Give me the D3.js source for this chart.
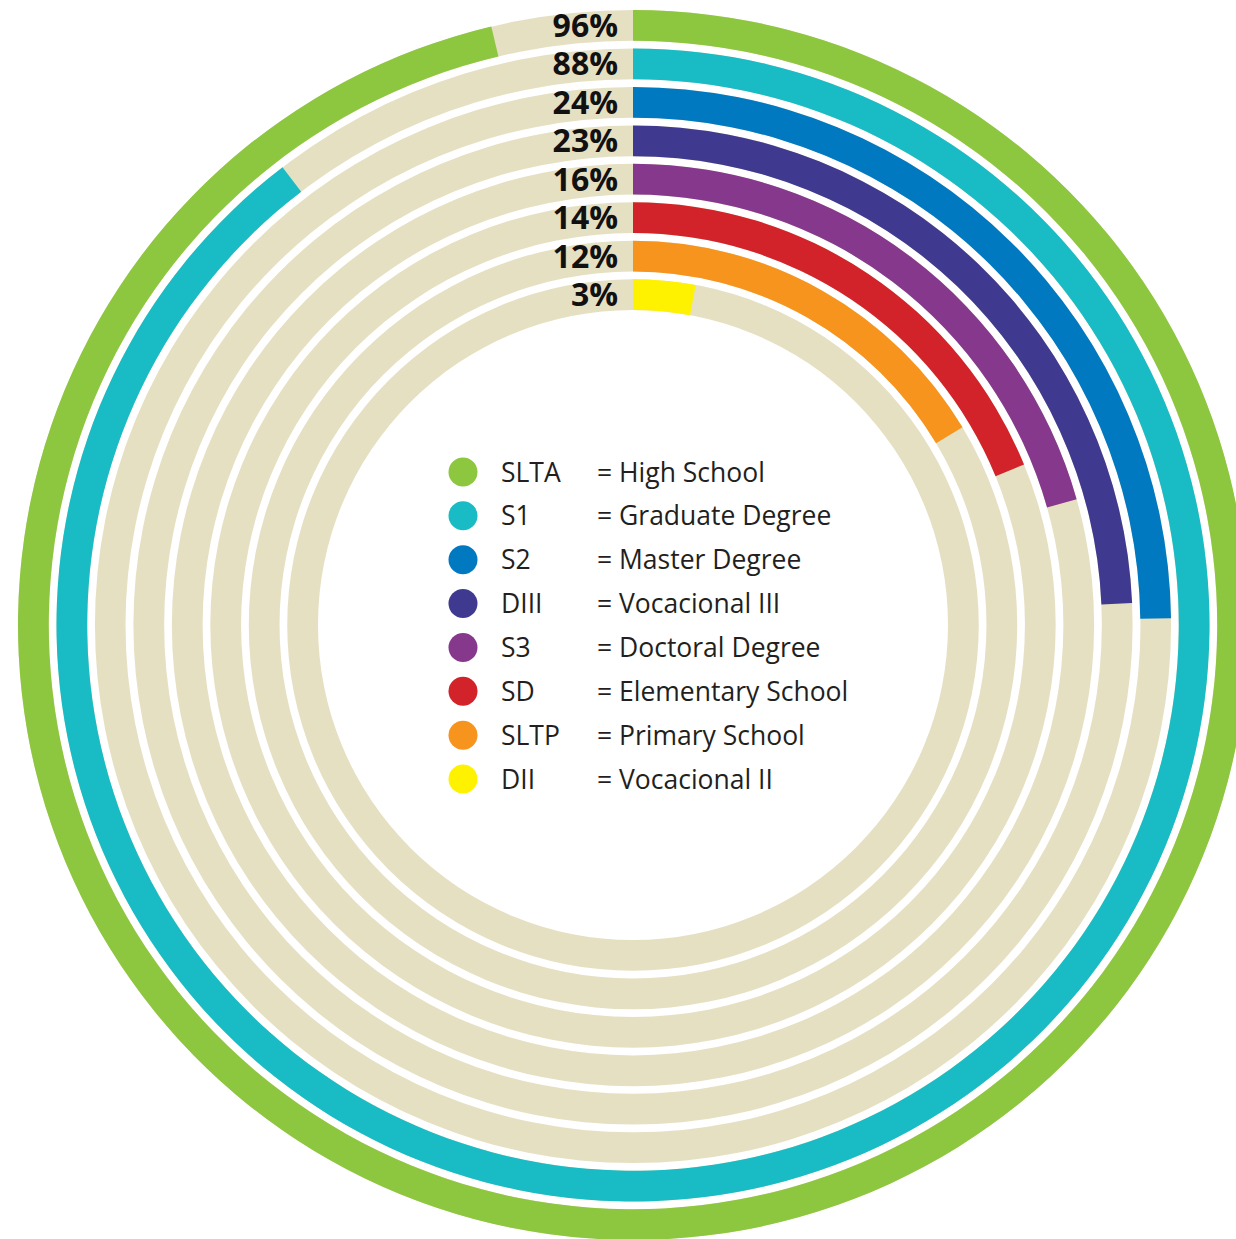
<!DOCTYPE html>
<html>
<head>
<meta charset="utf-8">
<script src="https://cdn.jsdelivr.net/npm/d3@7"></script>
<style>
  html, body { margin: 0; padding: 0; background: #fff; overflow: hidden; }
  svg { display: block; }
</style>
</head>
<body>
<div id="chart"></div>
<script>
// education levels, outer ring first
var codes = ["SLTA", "S1", "S2", "DIII", "S3", "SD", "SLTP", "DII"];
var levelNames = ["High School", "Graduate Degree", "Master Degree", "Vocacional III",
                  "Doctoral Degree", "Elementary School", "Primary School", "Vocacional II"];
// printed percentage labels
var percent = [96, 88, 24, 23, 16, 14, 12, 3];
// how far each coloured arc actually runs round its ring
var drawnShare = [96.3, 89.6, 24.8, 24.3, 20.6, 18.8, 16.4, 2.9];
var colors = ["#8dc63f", "#19bcc4", "#0079c1", "#3f3a8f", "#86388d", "#d2232a", "#f7941d", "#fff200"];

var width = 1236, height = 1239;
var cx = 633, cy = 625;
var track = "#e6e0c3";

var svg = d3.select("#chart").append("svg")
    .attr("width", width)
    .attr("height", height);

var g = svg.append("g")
    .attr("transform", "translate(" + cx + "," + cy + ")");

// ring band scale: index -> band (inner radius = ring(i))
var ring = d3.scaleBand()
    .domain(d3.range(codes.length))
    .range([615, 315])
    .paddingInner(0.2);
// value -> angle
var angle = d3.scaleLinear().domain([0, 100]).range([0, 2 * Math.PI]);

var arc = d3.arc()
    .innerRadius(function(d, i) { return ring(i); })
    .outerRadius(function(d, i) { return ring(i) + ring.bandwidth(); })
    .startAngle(0);

// beige tracks
g.selectAll("path.track")
    .data(codes)
  .enter().append("path")
    .attr("class", "track")
    .attr("d", function(d, i) { return arc.endAngle(2 * Math.PI)(d, i); })
    .attr("fill", track);

// coloured arcs
g.selectAll("path.val")
    .data(drawnShare)
  .enter().append("path")
    .attr("class", "val")
    .attr("d", function(d, i) { return arc.endAngle(angle(d))(d, i); })
    .attr("fill", function(d, i) { return colors[i]; });

// percentage labels at twelve o'clock
g.selectAll("text.pct")
    .data(percent)
  .enter().append("text")
    .attr("class", "pct")
    .attr("x", -15)
    .attr("y", function(d, i) { return -(ring(i) + ring.bandwidth() / 2); })
    .attr("dy", "0.36em")
    .attr("text-anchor", "end")
    .style("font-family", "'Open Sans', sans-serif")
    .style("font-weight", "bold")
    .style("font-size", "32px")
    .style("fill", "#111")
    .text(function(d) { return d + "%"; });

// legend in the middle
var legendY = d3.scaleLinear().domain([0, codes.length - 1]).range([472, 779]);
var legend = svg.append("g").selectAll("g")
    .data(codes)
  .enter().append("g")
    .attr("transform", function(d, i) { return "translate(0," + legendY(i) + ")"; });

legend.append("circle")
    .attr("cx", 463)
    .attr("r", 14.5)
    .attr("fill", function(d, i) { return colors[i]; });

legend.append("text")
    .attr("x", 501)
    .attr("dy", "0.36em")
    .style("font-family", "'Open Sans', sans-serif")
    .style("font-size", "26.5px")
    .style("fill", "#231f20")
    .text(function(d) { return d; });

legend.append("text")
    .attr("x", 597)
    .attr("dy", "0.36em")
    .style("font-family", "'Open Sans', sans-serif")
    .style("font-size", "26.5px")
    .style("fill", "#231f20")
    .text(function(d, i) { return "= " + levelNames[i]; });
</script>
</body>
</html>
